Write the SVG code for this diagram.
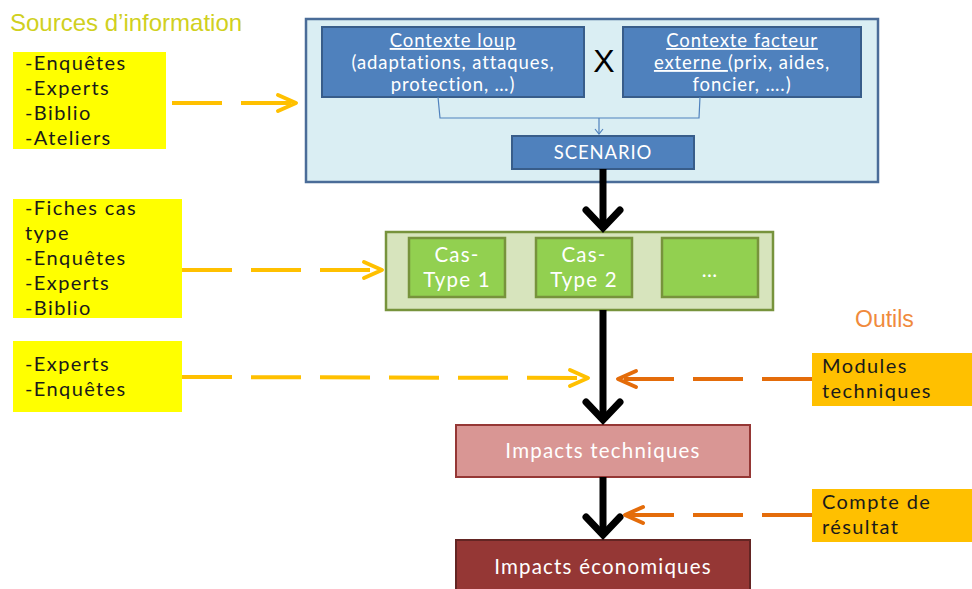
<svg xmlns="http://www.w3.org/2000/svg" width="972" height="589" viewBox="0 0 972 589">
<defs>
<style>
.t{font-family:Lato,"Open Sans","Liberation Sans",sans-serif}
.src{fill:#FFFF00}
.srct{font-size:20px;letter-spacing:1.4px;fill:#1a1a1a}
.blue{fill:#4F81BD;stroke:#385D8A;stroke-width:2}
.wt{fill:#fff;font-size:18.5px;letter-spacing:0.9px;text-anchor:middle}
.green{fill:#92D050;stroke:#77933C;stroke-width:2.5}
.gt{fill:#fff;font-size:20.5px;letter-spacing:1.2px;text-anchor:middle}
.tool{fill:#FFC000}
.ydash{stroke:#FFC000;stroke-width:4;fill:none;stroke-dasharray:50 19}
.odash{stroke:#E46C0A;stroke-width:4;fill:none;stroke-dasharray:50 19}
.yhead{stroke:#FFC000;stroke-width:4;fill:none;stroke-linecap:round;stroke-linejoin:round}
.ohead{stroke:#E46C0A;stroke-width:4;fill:none;stroke-linecap:round;stroke-linejoin:round}
.blk{stroke:#000;stroke-width:7;fill:none}
.bhead{stroke:#000;stroke-width:7;fill:none;stroke-linecap:round;stroke-linejoin:miter}
</style>
</defs>
<rect width="972" height="589" fill="#fff"/>
<text x="10" y="31" font-size="24" fill="#D0D020" style="font-family:'Liberation Sans',sans-serif">Sources d’information</text>
<text x="855" y="327" font-size="23" fill="#F08A3C" style="font-family:'Liberation Sans',sans-serif">Outils</text>

<g id="scenario-group">
<rect x="306" y="19" width="572" height="163" fill="#DAEEF3" stroke="#4A6C98" stroke-width="2.5"/>
</g>
<g id="contexte-loup">
<rect class="blue" x="322" y="27" width="262" height="70"/>
<text class="t wt" x="453" y="47" text-decoration="underline">Contexte loup</text>
<text class="t wt" x="453" y="69">(adaptations, attaques,</text>
<text class="t wt" x="453" y="91">protection, …)</text>
</g>
<g id="cross"><text x="604" y="72" font-size="32" text-anchor="middle" fill="#000" style="font-family:'Liberation Sans',sans-serif">X</text></g>
<g id="contexte-facteur">
<rect class="blue" x="623" y="27" width="238" height="70"/>
<text class="t wt" x="742" y="47" text-decoration="underline">Contexte facteur</text>
<text class="t wt" x="742" y="69"><tspan text-decoration="underline">externe </tspan>(prix, aides,</text>
<text class="t wt" x="742" y="91">foncier, ….)</text>
</g>
<g id="scenario">
<rect class="blue" x="512" y="136" width="182" height="33"/>
<text class="t wt" x="603" y="159" font-size="20">SCENARIO</text>
</g>

<g id="cas-types">
<rect x="386" y="232" width="387" height="78" fill="#D7E4BD" stroke="#77933C" stroke-width="2.5"/>
</g>
<g id="cas-type-1"><rect class="green" x="409" y="238" width="96" height="59"/>
<text class="t gt" x="457" y="262">Cas-</text><text class="t gt" x="457" y="287">Type 1</text></g>
<g id="cas-type-2"><rect class="green" x="536" y="238" width="96" height="59"/>
<text class="t gt" x="584" y="262">Cas-</text><text class="t gt" x="584" y="287">Type 2</text></g>
<g id="cas-type-etc"><rect class="green" x="662" y="238" width="96" height="59"/>
<text class="t gt" x="710" y="277">…</text></g>

<g id="impacts-techniques"><rect x="456" y="425" width="294" height="52" fill="#D99694" stroke="#953735" stroke-width="2"/>
<text class="t gt" x="603" y="458">Impacts techniques</text></g>
<g id="impacts-economiques"><rect x="456" y="540" width="294" height="52" fill="#953735" stroke="#632523" stroke-width="2"/>
<text class="t gt" x="603" y="574">Impacts économiques</text></g>

<g id="src1"><rect class="src" x="13" y="52" width="153" height="97"/>
<text class="t srct" x="25" y="70">-Enquêtes</text><text class="t srct" x="25" y="95">-Experts</text><text class="t srct" x="25" y="120">-Biblio</text><text class="t srct" x="25" y="145">-Ateliers</text></g>
<g id="src2"><rect class="src" x="13" y="199" width="169" height="119"/>
<text class="t srct" x="25" y="215">-Fiches cas</text><text class="t srct" x="25" y="240">type</text><text class="t srct" x="25" y="265">-Enquêtes</text><text class="t srct" x="25" y="290">-Experts</text><text class="t srct" x="25" y="315">-Biblio</text></g>
<g id="src3"><rect class="src" x="13" y="341" width="169" height="71"/>
<text class="t srct" x="25" y="371">-Experts</text><text class="t srct" x="25" y="396">-Enquêtes</text></g>

<g id="tool1"><rect class="tool" x="812" y="353" width="160" height="53"/>
<text class="t srct" x="822" y="373">Modules</text><text class="t srct" x="822" y="398">techniques</text></g>
<g id="tool2"><rect class="tool" x="812" y="489" width="160" height="53"/>
<text class="t srct" x="822" y="509">Compte de</text><text class="t srct" x="822" y="534">résultat</text></g>

<g id="connectors">
<polyline points="438,97 440,118 699,118 700,97" fill="none" stroke="#4F81BD" stroke-width="1.2"/>
<line x1="599" y1="118" x2="599" y2="134" stroke="#4F81BD" stroke-width="1.2"/>
<polyline points="595,129 599,134 603,129" fill="none" stroke="#4F81BD" stroke-width="1.2"/>

<line class="blk" x1="603" y1="169" x2="603" y2="226"/>
<polyline class="bhead" points="586,210 603,228 620,210"/>
<line class="blk" x1="603" y1="310" x2="603" y2="419"/>
<polyline class="bhead" points="586,402 603,420 620,402"/>
<line class="blk" x1="603" y1="477" x2="603" y2="534"/>
<polyline class="bhead" points="586,517 603,535 620,517"/>

<line class="ydash" x1="172" y1="103" x2="296" y2="103"/>
<polyline class="yhead" points="278,95 296,103 278,111"/>
<line class="ydash" x1="182" y1="270" x2="382" y2="270"/>
<polyline class="yhead" points="364,262 382,270 364,278"/>
<line class="ydash" x1="182" y1="377" x2="588" y2="378"/>
<polyline class="yhead" points="570,370 588,378 570,386"/>
<line class="odash" x1="812" y1="379" x2="618" y2="379"/>
<polyline class="ohead" points="636,371 618,379 636,387"/>
<line class="odash" x1="812" y1="515" x2="625" y2="515"/>
<polyline class="ohead" points="643,507 625,515 643,523"/>
</g>
</svg>
